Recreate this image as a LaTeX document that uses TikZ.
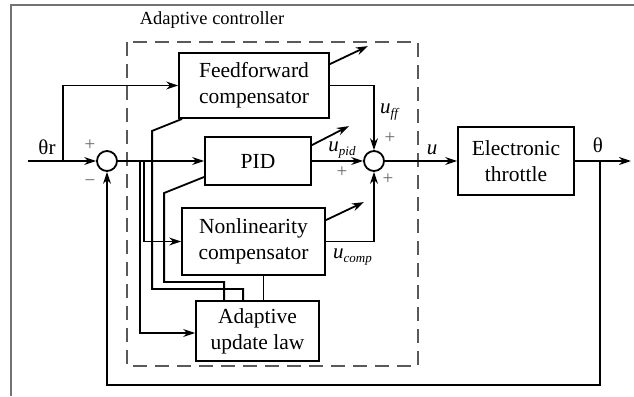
\documentclass[tikz,border=0pt]{standalone}
\usepackage{fontspec}
\setmainfont{Liberation Serif}
\usetikzlibrary{arrows.meta,calc}
\newcommand{\sig}[2]{\textit{u}\raisebox{-0.35ex}{\fontsize{13}{13}\selectfont\textit{#2}}}

\begin{document}
\begin{tikzpicture}[x=1pt, y=-1pt,
  blk/.style={draw, line width=1.8pt, align=center, inner sep=0pt,
              font=\fontsize{21.5}{26}\selectfont},
  sum/.style={draw, circle, line width=1.8pt, minimum size=20pt, inner sep=0pt},
  arr/.style={-{Stealth[length=12pt, width=8pt]}, line width=1.8pt},
  wire/.style={line width=1.8pt},
  lbl/.style={font=\fontsize{21}{24}\selectfont, inner sep=0pt},
  sgn/.style={font=\fontsize{19}{20}\selectfont, text=black!60, inner sep=0pt},
  ctrl/.style={draw=black!65, line width=1.8pt, dash pattern=on 14pt off 8pt}
]
\useasboundingbox (0,0) rectangle (634,396);
\draw[black!55, line width=1.2pt] (11,396) |- (634,5);

\draw[ctrl] (127,42) rectangle (418,366);
\node[font=\fontsize{18.5}{22}\selectfont] (title) at (212,20) {Adaptive controller};

\node[blk, minimum width=150pt, minimum height=65pt] (ff) at (254,85.5) {Feedforward\\compensator};
\node[blk, minimum width=106pt, minimum height=48pt] (pid) at (258,161) {PID};
\node[blk, minimum width=143pt, minimum height=67pt] (nlc) at (253.5,241.5) {Nonlinearity\\compensator};
\node[blk, minimum width=123pt, minimum height=60pt] (aul) at (257.5,331) {Adaptive\\update law};
\node[blk, minimum width=116pt, minimum height=68pt] (thr) at (516,161) {Electronic\\throttle};

\node[sum] (sumL) at (107,161) {};
\node[sum] (sumR) at (374,161) {};

\coordinate (in) at (28,161);
\coordinate (br) at (63,161);
\coordinate (e1) at (140,161);
\coordinate (e2) at (144,161);
\coordinate (tap) at (600,161);
\coordinate (out) at (631,161);

\draw[arr] (in) -- (sumL.west);
\draw[arr] (br) |- (ff.west);
\draw[arr] (sumL.east) -- (pid.west);
\draw[arr] (e1) |- ([yshift=-2pt]aul.west);
\draw[arr] (e2) |- (nlc.west);
\draw[wire] ([xshift=4pt]ff.south west) -- ++(-30,12) -- ++(0,158) -| ([xshift=48pt]aul.north west);
\draw[wire] ([yshift=-16pt]pid.west) -- ++(-40,16) -- ++(0,89) -| ([xshift=29pt]aul.north west);
\draw[wire] ([xshift=10pt]nlc.south) -- ([xshift=10pt]nlc.south |- aul.north);

\draw[arr] ([yshift=-12pt]ff.north east) -- ++(38,-18);
\draw[arr] ([yshift=-9pt]pid.north east) -- ++(37,-19);
\draw[arr] ([yshift=-13pt]nlc.north east) -- ++(38,-18);

\draw[arr] (ff.east) -| (sumR.north);
\draw[arr] (pid.east) -- (sumR.west);
\draw[arr] (nlc.east) -| (sumR.south);
\draw[arr] (sumR.east) -- (thr.west);
\draw[arr] (thr.east) -- (out);
\draw[arr] (tap) -- ++(0,224) -| (sumL.south);

\node[lbl] (thetar) at (47,147) {θr};
\node[lbl] (theta) at (598,145) {θ};
\node[lbl] (u) at (432,150) {\textit{u}};
\node[lbl, anchor=west] (uff) at (380,112) {\sig{u}{ff}};
\node[lbl] (upid) at (342,150) {\sig{u}{pid}};
\node[lbl, anchor=west] (ucomp) at (333,257) {\sig{u}{comp}};

\node[sgn] (pL) at (90,145) {+};
\node[sgn] (mL) at (90,183) {−};
\node[sgn] (pff) at (390,138) {+};
\node[sgn] (ppid) at (342,172) {+};
\node[sgn] (pcomp) at (388,179) {+};
\end{tikzpicture}
\end{document}
